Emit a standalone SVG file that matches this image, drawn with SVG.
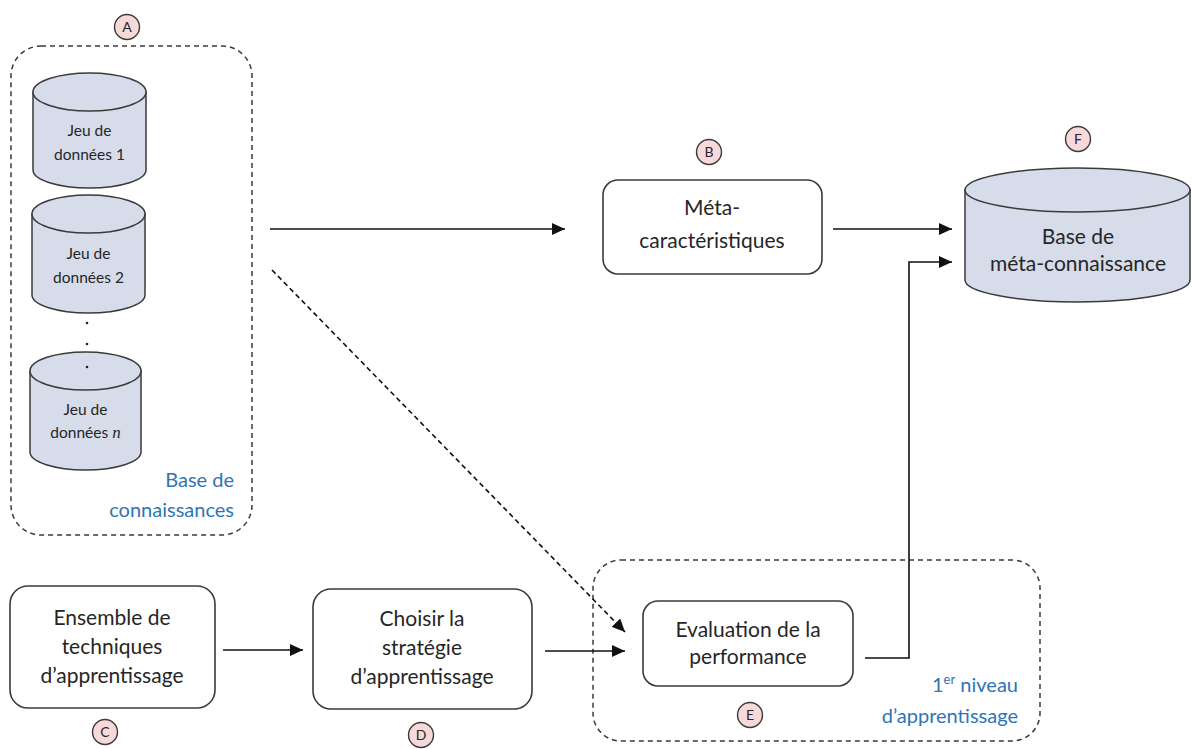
<svg xmlns="http://www.w3.org/2000/svg" width="1192" height="749" viewBox="0 0 1192 749">
<style>
.bg{fill:#ffffff}
.box{fill:#ffffff;stroke:#3a3a3a;stroke-width:1.6}
.cont{fill:none;stroke:#3a3a3a;stroke-width:1.5;stroke-dasharray:5 4}
.cyl{fill:#d6dcea;stroke:#3a3a3a;stroke-width:1.5}
.tag{fill:#f8d9da;stroke:#3a3a3a;stroke-width:1.4}
.t{font-family:Lato,"Liberation Sans",sans-serif;fill:#262626;text-anchor:middle}
.tb{font-size:21px}
.ts{font-size:15.5px}
.tl{font-size:14px}
.blue{font-family:Lato,"Liberation Sans",sans-serif;fill:#2e75b6;font-size:20px;text-anchor:end}
.ln{fill:none;stroke:#111;stroke-width:1.6}
.dash{stroke-dasharray:5 3.5}
</style>
<defs>
<marker id="ah" markerUnits="userSpaceOnUse" markerWidth="14" markerHeight="12" refX="13" refY="6" orient="auto">
<path d="M0,0 L13,6 L0,12 Z" fill="#111"/>
</marker>
</defs>
<rect class="bg" x="0" y="0" width="1192" height="749"/>

<g id="containerA">
<rect class="cont" x="11" y="46" width="241" height="489" rx="30"/>
<text class="blue" x="234" y="487">Base de</text>
<text class="blue" x="234" y="517">connaissances</text>
</g>
<g id="tagA"><circle class="tag" cx="127" cy="27" r="12.5"/><text class="t tl" x="127" y="32">A</text></g>

<g id="ds1">
<path class="cyl" d="M33,92 V170 A56.5,18 0 0 0 146,170 V92 Z"/>
<ellipse class="cyl" cx="89.5" cy="92" rx="56.5" ry="19"/>
<text class="t ts" x="89.5" y="136">Jeu de</text>
<text class="t ts" x="89.5" y="160">données 1</text>
</g>
<g id="ds2">
<path class="cyl" d="M32,214 V295 A56.5,18 0 0 0 145,295 V214 Z"/>
<ellipse class="cyl" cx="88.5" cy="214" rx="56.5" ry="19"/>
<text class="t ts" x="88.5" y="259">Jeu de</text>
<text class="t ts" x="88.5" y="283">données 2</text>
</g>
<g id="dots">
<circle cx="87" cy="323" r="1.3" fill="#222"/>
<circle cx="87" cy="344" r="1.3" fill="#222"/>
</g>
<g id="dsn">
<path class="cyl" d="M30,371 V452 A55.5,18 0 0 0 141,452 V371 Z"/>
<ellipse class="cyl" cx="85.5" cy="371" rx="55.5" ry="19"/>
<circle cx="87" cy="367" r="1.3" fill="#222"/>
<text class="t ts" x="85.5" y="415">Jeu de</text>
<text class="t ts" x="85.5" y="438">données <tspan font-family="'Liberation Serif',serif" font-style="italic" font-size="17">n</tspan></text>
</g>

<g id="nodeB">
<rect class="box" x="603" y="180" width="219" height="94" rx="15"/>
<text class="t tb" x="712" y="215">Méta-</text>
<text class="t tb" x="712" y="248">caractéristiques</text>
</g>
<g id="tagB"><circle class="tag" cx="709" cy="152" r="12.5"/><text class="t tl" x="709" y="157">B</text></g>

<g id="nodeF">
<path class="cyl" d="M965,190 V280 A112.5,22 0 0 0 1190,280 V190 Z"/>
<ellipse class="cyl" cx="1077.5" cy="190" rx="112.5" ry="22"/>
<text class="t" font-size="21" x="1078" y="244">Base de</text>
<text class="t" font-size="21" x="1078" y="271">méta-connaissance</text>
</g>
<g id="tagF"><circle class="tag" cx="1078" cy="139" r="12.5"/><text class="t tl" x="1078" y="144">F</text></g>

<g id="nodeC">
<rect class="box" x="10" y="586" width="205" height="122" rx="18"/>
<text class="t tb" x="112" y="625">Ensemble de</text>
<text class="t tb" x="112" y="654">techniques</text>
<text class="t tb" x="112" y="683">d’apprentissage</text>
</g>
<g id="tagC"><circle class="tag" cx="105" cy="732" r="12.5"/><text class="t tl" x="105" y="737">C</text></g>

<g id="nodeD">
<rect class="box" x="313" y="589" width="219" height="120" rx="18"/>
<text class="t tb" x="422" y="626">Choisir la</text>
<text class="t tb" x="422" y="655">stratégie</text>
<text class="t tb" x="422" y="684">d’apprentissage</text>
</g>
<g id="tagD"><circle class="tag" cx="421" cy="735" r="12.5"/><text class="t tl" x="421" y="740">D</text></g>

<g id="containerE">
<rect class="cont" x="593" y="560" width="447" height="181" rx="28"/>
<text class="blue" x="1018" y="692">1<tspan font-size="13" dy="-8">er</tspan><tspan dy="8"> niveau</tspan></text>
<text class="blue" x="1018" y="723">d’apprentissage</text>
</g>
<g id="nodeE">
<rect class="box" x="643" y="601" width="210" height="85" rx="15"/>
<text class="t tb" x="748" y="637">Evaluation de la</text>
<text class="t tb" x="748" y="664">performance</text>
</g>
<g id="tagE"><circle class="tag" cx="750" cy="715" r="12.5"/><text class="t tl" x="750" y="720">E</text></g>

<g id="connectors">
<path class="ln" d="M270,229 H565" marker-end="url(#ah)"/>
<path class="ln dash" d="M272,270 L625,632" marker-end="url(#ah)"/>
<path class="ln" d="M833,229 H952" marker-end="url(#ah)"/>
<path class="ln" d="M865,658 H909 V262 H952" marker-end="url(#ah)"/>
<path class="ln" d="M223,650 H303" marker-end="url(#ah)"/>
<path class="ln" d="M545,651 H625" marker-end="url(#ah)"/>
</g>
</svg>
